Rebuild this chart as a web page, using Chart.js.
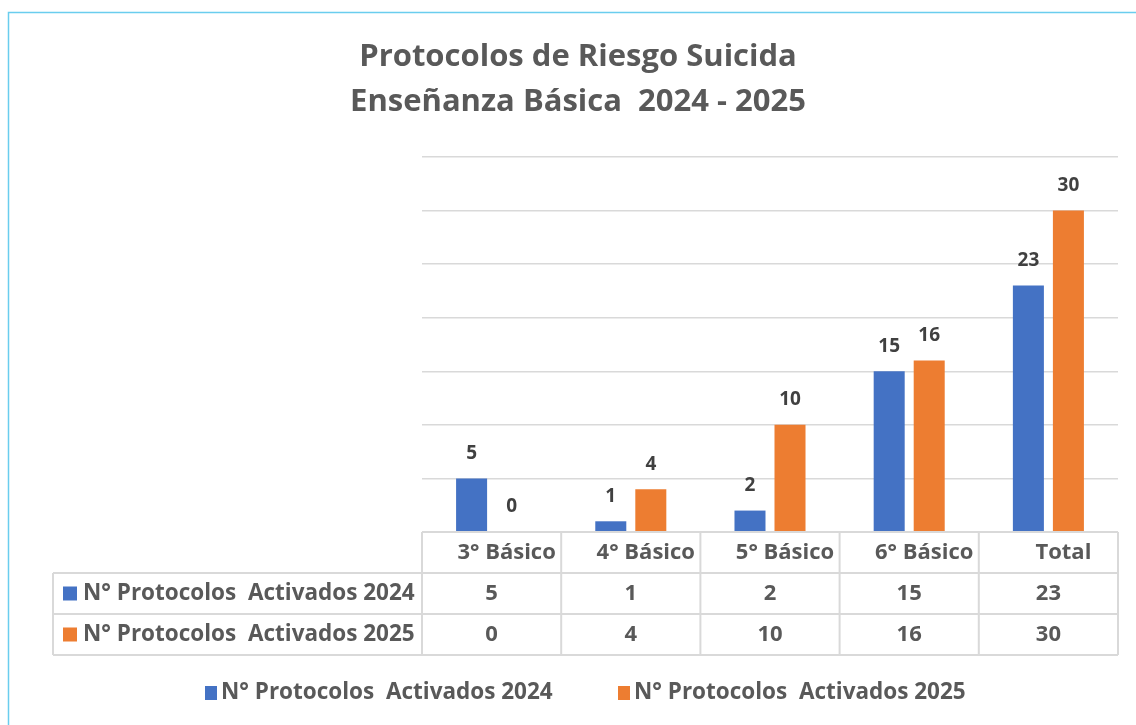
<!DOCTYPE html>
<html>
<head>
<meta charset="utf-8">
<script src="https://cdn.jsdelivr.net/npm/chart.js@4.4.1/dist/chart.umd.min.js"></script>
<style>
html,body{margin:0;padding:0;background:#fff;}
canvas{display:block;}
</style>
</head>
<body>
<canvas id="c" width="1136" height="725"></canvas>
<script>
const titleLines = ["Protocolos de Riesgo Suicida", "Enseñanza Básica  2024 - 2025"];
const categories = ["3° Básico", "4° Básico", "5° Básico", "6° Básico", "Total"];
const seriesNames = ["N° Protocolos  Activados 2024", "N° Protocolos  Activados 2025"];
const values2024 = [5, 1, 2, 15, 23];
const values2025 = [0, 4, 10, 16, 30];
const yTicks = [0, 5, 10, 15, 20, 25, 30, 35];

const BLUE = "#4472C4", ORANGE = "#ED7D31";
const TXT = "#595959", LBL = "#404040", GRID = "#D9D9D9";
const FONT = "'Open Sans', 'Noto Sans', sans-serif";

const extras = {
  id: "extras",
  beforeDraw(chart) {
    const ctx = chart.ctx;
    ctx.save();
    ctx.fillStyle = "#fff";
    ctx.fillRect(0, 0, chart.width, chart.height);
    ctx.restore();
  },
  afterDraw(chart) {
    const ctx = chart.ctx;
    const xs = chart.scales.x;
    const area = chart.chartArea;
    const colors = [BLUE, ORANGE];
    const series = [values2024, values2025];
    ctx.save();
    // outer border
    ctx.strokeStyle = "#6ACDEE";
    ctx.lineWidth = 1.5;
    ctx.strokeRect(8.5, 12.5, 1400, 900);

    // title
    ctx.fillStyle = TXT;
    ctx.font = "bold 31px " + FONT;
    ctx.textAlign = "center";
    ctx.textBaseline = "middle";
    ctx.fillText(titleLines[0], 578, 57);
    ctx.fillText(titleLines[1], 578, 102);

    // data labels
    ctx.fillStyle = LBL;
    ctx.font = "bold 19px " + FONT;
    series.forEach((vals, i) => {
      const meta = chart.getDatasetMeta(i);
      meta.data.forEach((bar, j) => {
        ctx.fillText(String(vals[j]), bar.x, bar.y - 25);
      });
    });

    // data table
    const n = categories.length;
    const cw = (area.right - area.left) / n;
    const rowH = 41;
    const top = area.bottom;
    const leftCol = 53;
    ctx.strokeStyle = GRID;
    ctx.lineWidth = 2;
    ctx.beginPath();
    ctx.moveTo(area.left, top); ctx.lineTo(area.right, top);
    for (let r = 1; r <= 3; r++) {
      ctx.moveTo(leftCol, top + r * rowH); ctx.lineTo(area.right, top + r * rowH);
    }
    for (let k = 0; k <= n; k++) {
      const x = area.left + k * cw;
      ctx.moveTo(x, top); ctx.lineTo(x, top + 3 * rowH);
    }
    ctx.moveTo(leftCol, top + rowH); ctx.lineTo(leftCol, top + 3 * rowH);
    ctx.stroke();

    ctx.fillStyle = TXT;
    ctx.font = "bold 22px " + FONT;
    ctx.textAlign = "center";
    categories.forEach((c, j) => {
      ctx.fillText(c, xs.getPixelForValue(j) + 15, top + rowH / 2);
    });
    series.forEach((vals, i) => {
      const cy = top + rowH * (i + 1.5);
      ctx.font = "bold 22px " + FONT;
      vals.forEach((v, j) => {
        ctx.fillText(String(v), xs.getPixelForValue(j), cy);
      });
      ctx.fillStyle = colors[i];
      ctx.fillRect(63, cy - 7, 14, 14);
      ctx.fillStyle = TXT;
      ctx.textAlign = "left";
      ctx.font = "bold 22.5px " + FONT;
      ctx.fillText(seriesNames[i], 83, cy);
      ctx.textAlign = "center";
    });

    // bottom legend
    const ly = 693;
    const lx = [205, 618];
    ctx.textAlign = "left";
    ctx.font = "bold 22.5px " + FONT;
    series.forEach((vals, i) => {
      ctx.fillStyle = colors[i];
      ctx.fillRect(lx[i], ly - 7, 12, 14);
      ctx.fillStyle = TXT;
      ctx.fillText(seriesNames[i], lx[i] + 16, ly);
    });
    ctx.restore();
  }
};

new Chart(document.getElementById("c"), {
  type: "bar",
  data: {
    labels: categories,
    datasets: [
      { label: seriesNames[0], data: values2024, backgroundColor: BLUE, categoryPercentage: 0.575, barPercentage: 0.775 },
      { label: seriesNames[1], data: values2025, backgroundColor: ORANGE, categoryPercentage: 0.575, barPercentage: 0.775 }
    ]
  },
  options: {
    responsive: false,
    animation: false,
    layout: { padding: { left: 422, right: 18, top: 157, bottom: 193 } },
    plugins: { legend: { display: false }, title: { display: false }, tooltip: { enabled: false } },
    scales: {
      x: { display: false },
      y: {
        min: yTicks[0], max: yTicks[yTicks.length - 1],
        afterBuildTicks: s => { s.ticks = yTicks.map(v => ({ value: v })); },
        afterFit: s => { s.width = 0; },
        ticks: { display: false },
        border: { display: false },
        grid: { color: GRID, lineWidth: 1.5, drawTicks: false }
      }
    }
  },
  plugins: [extras]
});
</script>
</body>
</html>
